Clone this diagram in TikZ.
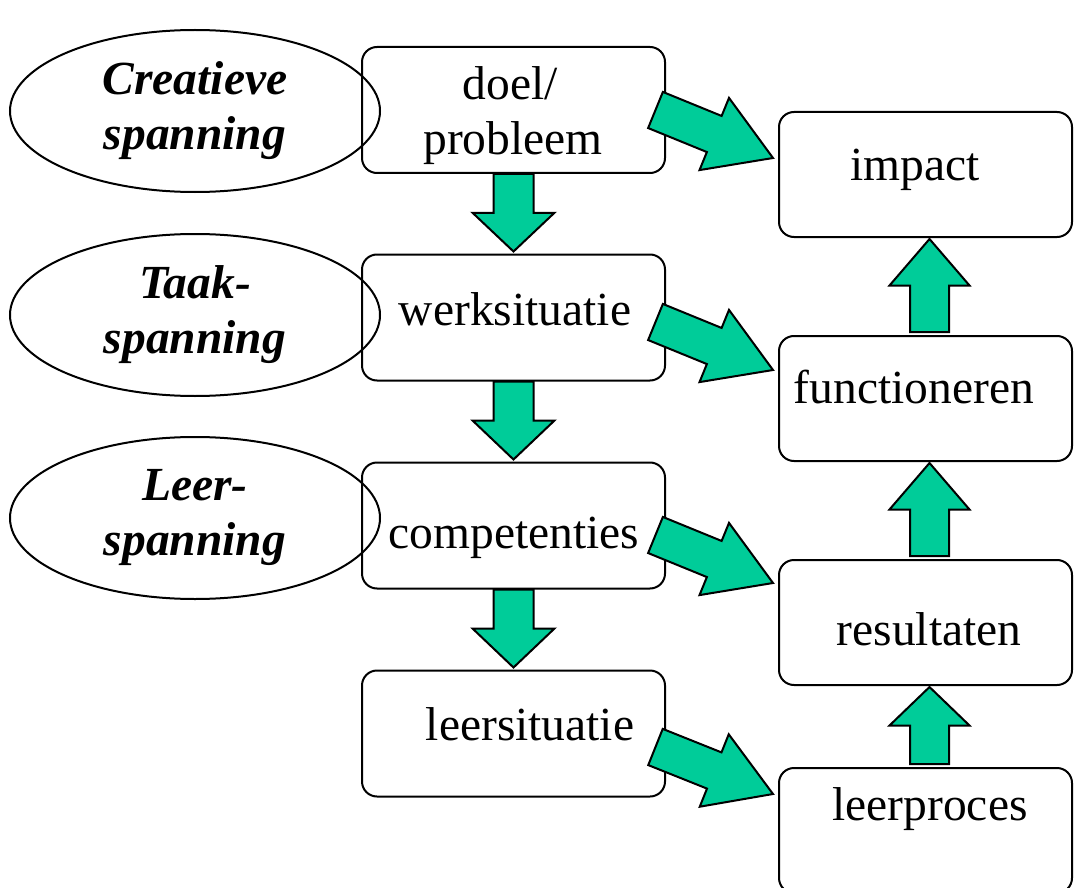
\documentclass[tikz,border=0pt]{standalone}
\usepackage{fontspec}
\setmainfont{Liberation Serif}
\usetikzlibrary{calc,shapes.geometric}
\definecolor{arrgreen}{HTML}{00CC99}
\newcommand\blockarr[4]{%
  \path ($(#1)!0.5!(#2)$) coordinate (bamid);
  \draw[barrow] ($(#1)!#3!90:(#2)$) -- ($(bamid)!#3!90:(#2)$) -- ($(bamid)!#4!90:(#2)$) -- (#2)
     -- ($(bamid)!#4!-90:(#2)$) -- ($(bamid)!#3!-90:(#2)$) -- ($(#1)!#3!-90:(#2)$) -- cycle;
}
\begin{document}
\begin{tikzpicture}[x=1pt,y=-1pt,
  rbox/.style={draw, line width=2pt, rounded corners=15pt, minimum width=303pt, minimum height=126pt, inner sep=0pt},
  lbox/.style={rbox, minimum width=293pt, minimum height=125pt},
  ell/.style={draw, line width=2pt, ellipse, minimum width=370pt, minimum height=162pt, inner sep=0pt,
     align=center, font=\fontsize{47.5}{55}\selectfont\bfseries\itshape},
  lbl/.style={anchor=base, inner sep=0pt, font=\fontsize{47.5}{55}\selectfont},
  barrow/.style={draw, line width=2pt, fill=arrgreen, line join=miter}]
\useasboundingbox (0,0) rectangle (1074,888);
% left boxes
\node[rbox] (b1) at (513.5,110) {};
\node[rbox] (b2) at (513.5,317.5) {};
\node[rbox] (b3) at (513.5,525.5) {};
\node[rbox] (b4) at (513.5,733.5) {};
% right boxes
\node[lbox] (r1) at (925.5,174.5) {};
\node[lbox] (r2) at (925.5,398.5) {};
\node[lbox] (r3) at (925.5,622.5) {};
\node[lbox] (r4) at (925.5,830.5) {};
% ellipses
\node[ell] (e1) at (195,111) {Creatieve\\spanning};
\node[ell] (e2) at (195,315) {Taak-\\spanning};
\node[ell] (e3) at (195,518) {Leer-\\spanning};
% texts
\node[lbl] (t1a) at (510,100) {doel/};
\node[lbl] (t1b) at (513,155) {probleem};
\node[lbl] (t2) at (515,325) {werksituatie};
\node[lbl] (t3) at (514,548) {competenties};
\node[lbl] (t4) at (530,740) {leersituatie};
\node[lbl] (u1) at (915,180) {impact};
\node[lbl] (u2) at (914,403) {functioneren};
\node[lbl] (u3) at (929,645) {resultaten};
\node[lbl] (u4) at (930,820) {leerproces};
% arrow end points
\coordinate (d1s) at (b1.south);
\coordinate (d1e) at ($(b2.north)+(0,-2)$);
\coordinate (d2s) at (b2.south);
\coordinate (d2e) at ($(b3.north)+(0,-2)$);
\coordinate (d3s) at (b3.south);
\coordinate (d3e) at ($(b4.north)+(0,-2)$);
\coordinate (u1s) at ($(r2.north)+(4,-3)$);
\coordinate (u1e) at ($(r1.south)+(4,1)$);
\coordinate (u2s) at ($(r3.north)+(4,-3)$);
\coordinate (u2e) at ($(r2.south)+(4,1)$);
\coordinate (u3s) at ($(r4.north)+(4,-3)$);
\coordinate (u3e) at ($(r3.south)+(4,1)$);
\coordinate (g1s) at (655.5,110);
\coordinate (g1e) at (773,158);
\coordinate (g2s) at (655.5,322);
\coordinate (g2e) at (773,370);
\coordinate (g3s) at (655.5,535);
\coordinate (g3e) at (773,583);
\coordinate (g4s) at (655.5,747);
\coordinate (g4e) at (773,794);
% block arrows
\blockarr{d1s}{d1e}{20pt}{41pt}
\blockarr{d2s}{d2e}{20pt}{41pt}
\blockarr{d3s}{d3e}{20pt}{41pt}
\blockarr{u1s}{u1e}{19.5pt}{40pt}
\blockarr{u2s}{u2e}{19.5pt}{40pt}
\blockarr{u3s}{u3e}{19.5pt}{40pt}
\blockarr{g1s}{g1e}{19.5pt}{39pt}
\blockarr{g2s}{g2e}{19.5pt}{39pt}
\blockarr{g3s}{g3e}{19.5pt}{39pt}
\blockarr{g4s}{g4e}{19.5pt}{39pt}
\end{tikzpicture}
\end{document}
